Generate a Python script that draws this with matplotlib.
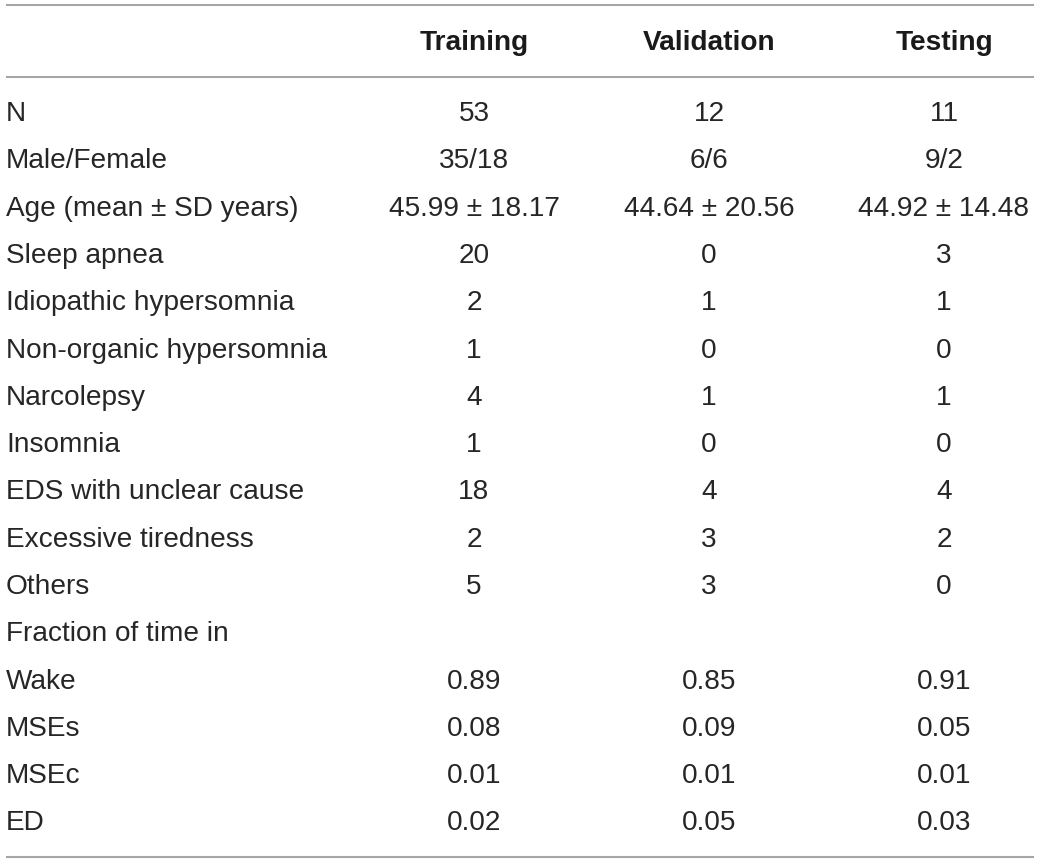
import matplotlib
matplotlib.use("Agg")
import matplotlib.pyplot as plt

plt.rcParams['font.family'] = ['Liberation Sans', 'DejaVu Sans']

columns = ["Training", "Validation", "Testing"]
row_labels = ["N", "Male/Female", "Age (mean \u00b1 SD years)", "Sleep apnea",
              "Idiopathic hypersomnia", "Non-organic hypersomnia", "Narcolepsy",
              "Insomnia", "EDS with unclear cause", "Excessive tiredness", "Others",
              "Fraction of time in", "Wake", "MSEs", "MSEc", "ED"]
training = ["53", "35/18", "45.99 \u00b1 18.17", "20", "2", "1", "4", "1", "18", "2", "5",
            "", "0.89", "0.08", "0.01", "0.02"]
validation = ["12", "6/6", "44.64 \u00b1 20.56", "0", "1", "0", "1", "0", "4", "3", "3",
              "", "0.85", "0.09", "0.01", "0.05"]
testing = ["11", "9/2", "44.92 \u00b1 14.48", "3", "1", "0", "1", "0", "4", "2", "0",
           "", "0.91", "0.05", "0.01", "0.03"]

fig = plt.figure(figsize=(10.41, 8.64), dpi=100)
ax = fig.add_axes([0, 0, 1, 1])
ax.set_xlim(0, 1041)
ax.set_ylim(864, 0)
ax.axis("off")

fs = 20.2
col_x = [474, 709, 944]
line_col = "#a6a6a6"
txt_col = "#262626"

# rules
for y in [5, 77, 857]:
    ax.plot([6, 1034], [y, y], color=line_col, lw=1.5, solid_capstyle="butt")

# header
for x, c in zip(col_x, columns):
    ax.text(x, 43, c, ha="center", va="center", fontsize=fs, fontweight="bold", color="#1a1a1a")

y0 = 114
dy = 47.3
for i, lab in enumerate(row_labels):
    y = y0 + i * dy
    ax.text(6, y, lab, ha="left", va="center", fontsize=fs, color=txt_col)
    for x, vals in zip(col_x, [training, validation, testing]):
        ax.text(x, y, vals[i], ha="center", va="center", fontsize=fs, color=txt_col)

fig.savefig("out.png", dpi=100)
